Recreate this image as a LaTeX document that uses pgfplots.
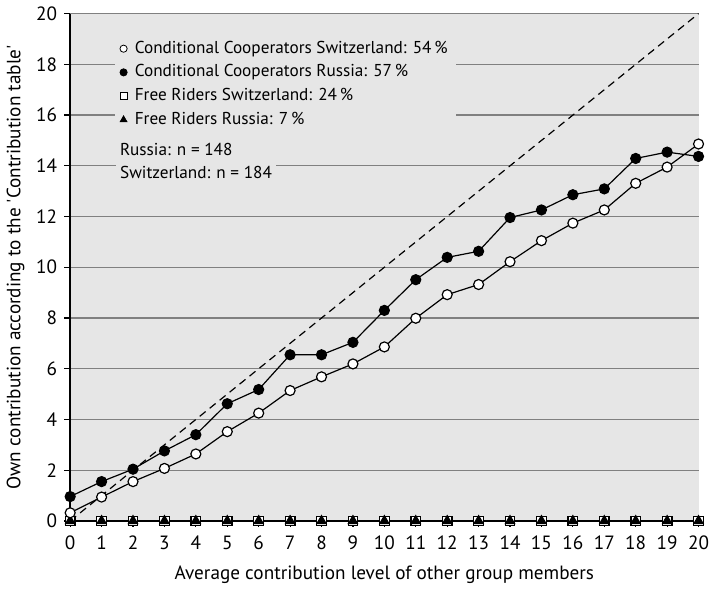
\documentclass[border=0pt]{standalone}
\usepackage{fontspec}
\setmainfont{PT Sans}
\usepackage{pgfplots}
\pgfplotsset{compat=1.18}
\definecolor{bggray}{RGB}{230,230,230}
\definecolor{gridgray}{RGB}{128,128,128}

\begin{document}
\begin{tikzpicture}
  \begin{axis}[
      scale only axis,
      width=314pt, height=253.5pt,
      xmin=0, xmax=20, ymin=0, ymax=20,
      axis x line=bottom, axis y line=left,
      axis line style={-, black, line width=0.7pt},
      axis background/.style={fill=bggray},
      xtick={0,...,20}, ytick={0,2,...,20},
      tick style={black, line width=0.6pt},
      tick align=outside, major tick length=3pt,
      ymajorgrids, grid style={gridgray, line width=0.6pt},
      ticklabel style={font=\fontsize{9.6}{11}\selectfont},
      xticklabel style={inner xsep=0.5pt, yshift=-1pt},
      /pgf/number format/assume math mode=true,
      xlabel={Average contribution level of other group members},
      ylabel={Own contribution according to the \textquotesingle Contribution table\textquotesingle},
      label style={font=\fontsize{9.6}{11}\selectfont},
      xlabel style={yshift=-1pt},
      ylabel style={yshift=-1pt},
      clip=false,
      legend cell align=left,
      legend style={at={(axis cs:1.42,19.25)}, anchor=north west,
        fill=bggray, draw=none, font=\fontsize{8.6}{10}\selectfont,
        row sep=0.2pt, inner sep=2pt},
      legend image code/.code={\draw[#1] plot coordinates {(0cm,0cm)}; \path (-0.07cm,0cm) (0.12cm,0cm);},
    ]
    % 45 degree reference
    \addplot[black, dash pattern=on 3.8pt off 2.6pt, line width=0.6pt, forget plot] coordinates {(0,0) (20,20)};

    % free riders
    \addplot[black, line width=0.6pt, mark=square*, mark size=2.4pt,
      mark options={fill=white, draw=black}, forget plot] coordinates {
      (0,0) (1,0) (2,0) (3,0) (4,0) (5,0) (6,0) (7,0) (8,0) (9,0) (10,0)
      (11,0) (12,0) (13,0) (14,0) (15,0) (16,0) (17,0) (18,0) (19,0) (20,0)};
    \addplot[black, line width=0.6pt, mark=triangle*, mark size=2.6pt,
      mark options={fill=black}, forget plot] coordinates {
      (0,0) (1,0) (2,0) (3,0) (4,0) (5,0) (6,0) (7,0) (8,0) (9,0) (10,0)
      (11,0) (12,0) (13,0) (14,0) (15,0) (16,0) (17,0) (18,0) (19,0) (20,0)};

    % conditional cooperators Russia
    \addplot[black, line width=0.6pt, mark=*, mark size=2.5pt,
      mark options={fill=black}, forget plot] coordinates {
      (0,0.96) (1,1.55) (2,2.04) (3,2.76) (4,3.40) (5,4.62) (6,5.18)
      (7,6.55) (8,6.55) (9,7.04) (10,8.30) (11,9.51) (12,10.39) (13,10.63)
      (14,11.96) (15,12.26) (16,12.86) (17,13.09) (18,14.29) (19,14.54) (20,14.37)};

    % conditional cooperators Switzerland
    \addplot[black, line width=0.6pt, mark=*, mark size=2.5pt,
      mark options={fill=white}, forget plot] coordinates {
      (0,0.32) (1,0.94) (2,1.55) (3,2.07) (4,2.64) (5,3.52) (6,4.25)
      (7,5.14) (8,5.68) (9,6.19) (10,6.86) (11,7.99) (12,8.92) (13,9.32)
      (14,10.22) (15,11.05) (16,11.74) (17,12.26) (18,13.31) (19,13.95) (20,14.86)};

    \addlegendimage{only marks, mark=*, mark size=1.8pt, mark options={fill=white, draw=black}}
    \addlegendentry{Conditional Cooperators Switzerland: 54\,\%}
    \addlegendimage{only marks, mark=*, mark size=1.8pt, mark options={fill=black, draw=black}}
    \addlegendentry{Conditional Cooperators Russia: 57\,\%}
    \addlegendimage{only marks, mark=square*, mark size=1.7pt, mark options={fill=white, draw=black}}
    \addlegendentry{Free Riders Switzerland: 24\,\%}
    \addlegendimage{only marks, mark=triangle*, mark size=1.9pt, mark options={fill=black, draw=black}}
    \addlegendentry{Free Riders Russia: 7\,\%}

    \node[anchor=north west, fill=bggray, inner sep=2pt, align=left,
      font=\fontsize{8.6}{11.4}\selectfont]
      at (axis cs:1.45,15.05) {Russia: n = 148\\Switzerland: n = 184};
  \end{axis}
\end{tikzpicture}
\end{document}
